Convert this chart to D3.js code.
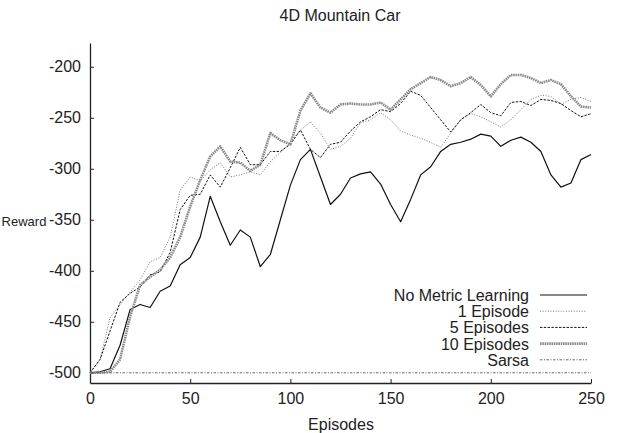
<!DOCTYPE html>
<html>
<head>
<meta charset="utf-8">
<script src="https://cdn.jsdelivr.net/npm/d3@7"></script>
<style>
	body { margin: 0; background: #fff; }
	svg { display: block; font-family: "Liberation Sans", Arial, sans-serif; }
</style>
</head>
<body>
<div id="chart"></div>
<script>
'use strict';

// episodes sampled every 5
const episodes = [0, 5, 10, 15, 20, 25, 30, 35, 40, 45, 50, 55, 60, 65, 70, 75, 80, 85, 90, 95,
	100, 105, 110, 115, 120, 125, 130, 135, 140, 145, 150, 155, 160, 165, 170, 175, 180, 185, 190, 195,
	200, 205, 210, 215, 220, 225, 230, 235, 240, 245, 250];

const noMetric = [-500, -499, -496, -473, -438, -433, -436, -420, -415, -394, -387, -367, -327, -352, -375, -360, -367, -396, -384, -350,
	-316, -291, -281, -308, -335, -325, -309, -305, -303, -315, -335, -352, -330, -306, -298, -283, -276, -274, -271, -266,
	-268, -278, -272, -269, -274, -283, -306, -318, -314, -291, -286];

const oneEpisode = [-500, -487, -446, -433, -421, -409, -391, -387, -367, -321, -308, -312, -301, -294, -308, -306, -303, -306, -293, -284,
	-274, -262, -254, -265, -281, -278, -270, -255, -252, -245, -252, -263, -267, -270, -274, -279, -265, -252, -246, -249,
	-254, -259, -252, -242, -232, -228, -229, -237, -232, -230, -234];

const fiveEpisodes = [-500, -487, -459, -431, -422, -416, -404, -401, -382, -340, -326, -325, -306, -318, -299, -279, -296, -296, -283, -283,
	-276, -262, -281, -289, -276, -274, -263, -254, -249, -242, -244, -236, -224, -228, -240, -252, -264, -252, -245, -237,
	-245, -248, -235, -234, -238, -232, -233, -236, -243, -249, -246];

const tenEpisodes = [-500, -500, -499, -487, -445, -414, -406, -399, -387, -367, -337, -311, -288, -278, -293, -294, -302, -296, -265, -272,
	-276, -243, -226, -240, -245, -237, -236, -237, -237, -235, -242, -232, -222, -216, -210, -213, -219, -216, -210, -218,
	-229, -217, -208, -208, -211, -216, -213, -217, -229, -239, -240];

const sarsa = [-500, -500, -500, -500, -500, -500, -500, -500, -500, -500, -500, -500, -500, -500, -500, -500, -500, -500, -500, -500,
	-500, -500, -500, -500, -500, -500, -500, -500, -500, -500, -500, -500, -500, -500, -500, -500, -500, -500, -500, -500,
	-500, -500, -500, -500, -500, -500, -500, -500, -500, -500, -500];

const seriesNames = ["No Metric Learning", "1 Episode", "5 Episodes", "10 Episodes", "Sarsa"];
const seriesValues = [noMetric, oneEpisode, fiveEpisodes, tenEpisodes, sarsa];

const xTicks = [0, 50, 100, 150, 200, 250];
const yTicks = [-500, -450, -400, -350, -300, -250, -200];

const WIDTH = 623, HEIGHT = 433;
const FONT_PX = 16;

// line look per series: stroke, width, dash
const STYLES = [
	{ stroke: "#111", width: 1.2, dash: null },
	{ stroke: "#777", width: 1, dash: "1,1.6" },
	{ stroke: "#111", width: 1, dash: "2.4,1.4" },
	{ stroke: "#8c8c8c", width: 2.6, dash: "1.6,0.7" },
	{ stroke: "#666", width: 1, dash: "2.5,1.5,1,1.5" },
];

const svg = d3.select("#chart").append("svg")
	.attr("width", WIDTH)
	.attr("height", HEIGHT);

const x = d3.scaleLinear().domain([0, 250]).range([90, 591]);
const y = d3.scaleLinear().domain([-510, -176.7]).range([383, 43]);

// title + axis labels
svg.append("text")
	.attr("x", 340).attr("y", 21)
	.attr("text-anchor", "middle")
	.attr("font-size", FONT_PX)
	.attr("fill", "#222")
	.text("4D Mountain Car");

svg.append("text")
	.attr("x", 24).attr("y", 226)
	.attr("text-anchor", "middle")
	.attr("font-size", 13)
	.attr("fill", "#222")
	.text("Reward");

svg.append("text")
	.attr("x", 341).attr("y", 430)
	.attr("text-anchor", "middle")
	.attr("font-size", FONT_PX)
	.attr("fill", "#222")
	.text("Episodes");

// axes, ticks pointing inward, plain hyphen minus like the original
const xAxis = d3.axisBottom(x).tickValues(xTicks).tickSize(-4).tickSizeOuter(0).tickPadding(10)
	.tickFormat(d => String(d));
const yAxis = d3.axisLeft(y).tickValues(yTicks).tickSize(-4).tickSizeOuter(0).tickPadding(9)
	.tickFormat(d => String(d));

const gx = svg.append("g").attr("transform", "translate(0,383)").call(xAxis);
const gy = svg.append("g").attr("transform", "translate(90,0)").call(yAxis);

[gx, gy].forEach(g => {
	g.select(".domain").attr("stroke", "#222").attr("stroke-width", 1.3);
	g.selectAll(".tick line").attr("stroke", "#222");
	g.selectAll(".tick text")
		.attr("font-size", FONT_PX)
		.attr("font-family", "\"Liberation Sans\", Arial, sans-serif")
		.attr("fill", "#222");
});

// series lines
const line = d3.line()
	.x((d, i) => x(episodes[i]))
	.y(d => y(d));

const gLines = svg.append("g").attr("fill", "none");
seriesValues.forEach((vals, k) => {
	const st = STYLES[k];
	gLines.append("path")
		.attr("d", line(vals))
		.attr("stroke", st.stroke)
		.attr("stroke-width", st.width)
		.attr("stroke-dasharray", st.dash)
		.attr("stroke-linejoin", "round");
});

// legend, right aligned text with sample line
const legend = svg.append("g");
seriesNames.forEach((name, k) => {
	const st = STYLES[k];
	const ly = 295 + k * 16.2;
	legend.append("text")
		.attr("x", 529).attr("y", ly + 6)
		.attr("text-anchor", "end")
		.attr("font-size", FONT_PX)
		.attr("fill", "#222")
		.text(name);
	legend.append("line")
		.attr("x1", 540).attr("x2", 587)
		.attr("y1", ly).attr("y2", ly)
		.attr("stroke", st.stroke)
		.attr("stroke-width", st.width)
		.attr("stroke-dasharray", st.dash);
});
</script>
</body>
</html>
